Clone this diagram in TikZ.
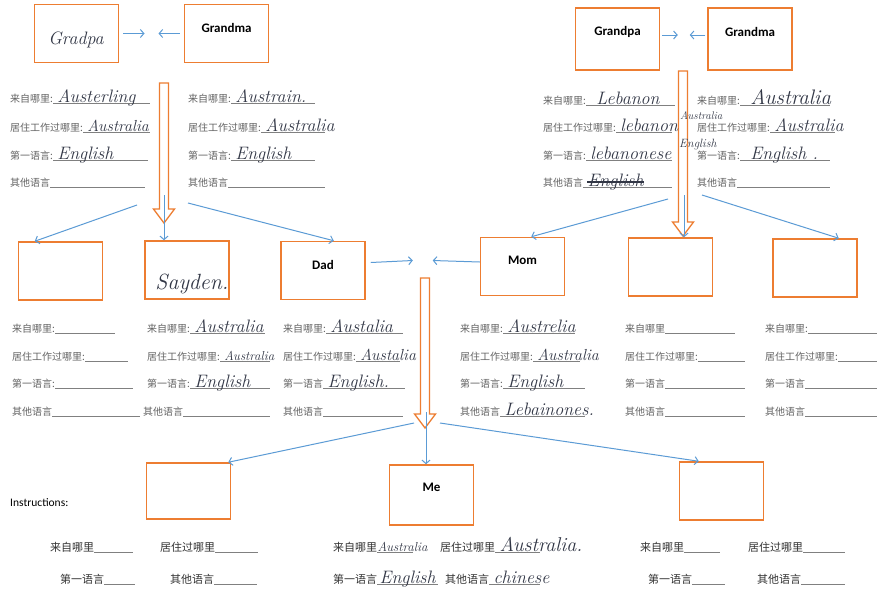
\documentclass[tikz,border=0pt]{standalone}
\usepackage{fontspec}
\newfontfamily\cjk{Noto Sans CJK SC}
\newfontfamily\boxfont{Carlito}
\usetikzlibrary{arrows.meta,calc}

\definecolor{boxorange}{RGB}{237,125,49}
\definecolor{linkblue}{RGB}{91,155,213}
\definecolor{labgray}{RGB}{100,100,100}
\definecolor{ink}{RGB}{50,55,70}

% one answer line: name, x, baseline y, label, end of rule, handwriting
\newcommand\infoline[6]{%
  \node[lab] (#1) at (#2,#3) {#4};
  \coordinate (#1e) at (#5,#3+1);
  \draw[uline] ([yshift=-1pt]#1.base east) -- (#1e);
  \node[hand] (#1h) at ([xshift=4pt]#1.base east) {#6};
}

\begin{document}
\begin{tikzpicture}[x=1pt,y=-1pt,
  person/.style = { draw=boxorange, line width=1.5pt, fill=white,
                    minimum width=84pt, minimum height=58pt, inner sep=0pt },
  boxtxt/.style = { font=\boxfont\bfseries\fontsize{13}{13}\selectfont, inner sep=0pt },
  lab/.style    = { font=\cjk\fontsize{10}{11}\selectfont, text=labgray,
                    anchor=base west, inner sep=0pt },
  blab/.style   = { font=\cjk\fontsize{11}{12}\selectfont, text=black!80,
                    anchor=base west, inner sep=0pt },
  uline/.style  = { draw=gray, line width=0.6pt },
  hand/.style   = { font=\fontsize{18}{18}\selectfont\itshape, text=ink,
                    anchor=base west, inner sep=0pt },
  link/.style   = { draw=linkblue, line width=1pt,
                    -{Straight Barb[length=3.5pt,width=8pt]} },
  fatarrow/.style = { draw=boxorange, line width=1.3pt, fill=white }]
  \useasboundingbox (0,0) rectangle (877,600);
  \fill[white] (0,0) rectangle (877,600);

  % grandparents
  \node[person] (gpL) at (76.5,33.5) {};
  \node[person] (gmL) at (226.5,33.5) {};
  \node[person, minimum height=62pt] (gpR) at (617.5,39) {};
  \node[person, minimum height=62pt] (gmR) at (750,39) {};
  \node[hand, anchor=center] (gpLt) at (76,40) {Gradpa};
  \node[boxtxt] (gmLt) at ([yshift=-24pt]gmL.north) {Grandma};
  \node[boxtxt] (gpRt) at ([yshift=-25pt]gpR.north) {Grandpa};
  \node[boxtxt] (gmRt) at ([yshift=-25pt]gmR.north) {Grandma};

  \coordinate (mL) at ($(gpL.east)!0.5!(gmL.west)$);
  \coordinate (mR) at ($(gpR.east)!0.5!(gmR.west)$);
  \draw[link] ([xshift=4pt]gpL.east) -- ([xshift=-7pt]mL);
  \draw[link] ([xshift=-4pt]gmL.west) -- ([xshift=7pt]mL);
  \draw[link] ([xshift=2pt,yshift=4pt]gpR.east) -- ([xshift=-6pt,yshift=4pt]mR);
  \draw[link] ([xshift=-2pt,yshift=4pt]gmR.west) -- ([xshift=6pt,yshift=4pt]mR);

  % parents' generation
  \node[person] (sibA) at (60.5,271) {};
  \node[person] (sibB) at (187,270) {};
  \node[person] (dad)  at (323,270.5) {};
  \node[person] (mom)  at (522.5,266.5) {};
  \node[person] (sibE) at (670.5,267) {};
  \node[person] (sibF) at (815,268) {};
  \node[hand, anchor=center, font=\fontsize{22}{22}\selectfont\itshape] (sibBt) at (192,284) {Sayden.};
  \node[boxtxt] (dadt) at ([yshift=-24pt]dad.north) {Dad};
  \node[boxtxt] (momt) at ([yshift=-24pt]mom.north) {Mom};

  % my generation
  \node[person, minimum height=56pt] (kidL) at (188.5,491) {};
  \node[person, minimum height=60pt] (me)   at (431.5,495) {};
  \node[person, minimum height=58pt] (kidR) at (721.5,491) {};
  \node[boxtxt] (met) at ([yshift=-23pt]me.north) {Me};

  % hollow descent arrows
  \draw[fatarrow] (159.5,83) -- (168.5,83) -- (168.5,209) -- (174.5,209)
    -- (164,223) -- (153.5,209) -- (159.5,209) -- cycle;
  \draw[fatarrow] (678.5,71) -- (687.5,71) -- (687.5,222) -- (693.5,222)
    -- (683,236) -- (672.5,222) -- (678.5,222) -- cycle;
  \draw[fatarrow] (420.5,278) -- (429.5,278) -- (429.5,414) -- (435.5,414)
    -- (425,428) -- (414.5,414) -- (420.5,414) -- cycle;

  \coordinate (dL) at (164,195);
  \coordinate (dR) at (684,195);
  \coordinate (dM) at (426,412);
  \draw[link] (dL) ++(-27,10) -- ([xshift=17pt]sibA.north west);
  \draw[link] (dL) -- (sibB.north -| dL);
  \draw[link] (dL) ++(24,8) -- ([xshift=-32pt]dad.north east);
  \draw[link] (dR) ++(-16,4) -- ([xshift=-34pt]mom.north east);
  \draw[link] (dR) -- (sibE.north -| dR);
  \draw[link] (dR) ++(18,0) -- ([xshift=-19pt]sibF.north east);
  \draw[link] (dM) ++(-12,11) -- ([xshift=-3pt]kidL.north east);
  \draw[link] (dM) -- (me.north -| dM);
  \draw[link] (dM) ++(14,11) -- ([xshift=20pt]kidR.north west);

  \coordinate (mP) at ($(dad.east)!0.5!(mom.west)$);
  \draw[link] ([xshift=5pt,yshift=8pt]dad.east) -- ([xshift=-10pt,yshift=8pt]mP);
  \draw[link] ([yshift=4.5pt]mom.west) -- ([xshift=10pt,yshift=8pt]mP);

  % answer lines under grandparents
  \infoline{gpLa}{10}{102}{来自哪里:}{150}{Austerling}
  \infoline{gpLb}{10}{131}{居住工作过哪里:}{150}{\fontsize{16}{16}\selectfont Australia}
  \infoline{gpLc}{10}{159}{第一语言:}{148}{English}
  \infoline{gpLd}{10}{186}{其他语言}{145}{}
  \infoline{gmLa}{188}{102}{来自哪里:}{315}{Austrain.}
  \infoline{gmLb}{188}{131}{居住工作过哪里:}{325}{Australia}
  \infoline{gmLc}{188}{159}{第一语言:}{315}{English}
  \infoline{gmLd}{188}{186}{其他语言}{325}{}
  \infoline{gpRa}{543}{104}{来自哪里:}{675}{\hspace{6pt}Lebanon}
  \infoline{gpRb}{543}{131}{居住工作过哪里:}{672}{lebanon}
  \infoline{gpRc}{543}{159}{第一语言:}{672}{lebanonese}
  \infoline{gpRd}{543}{186}{其他语言}{672}{English}
  \draw[ink, line width=1.2pt] ([yshift=4pt]gpRdh.base west) -- ([yshift=4pt]gpRdh.base east);
  \infoline{gmRa}{697}{104}{来自哪里:}{830}{\hspace{6pt}\fontsize{21}{21}\selectfont Australia}
  \infoline{gmRb}{697}{131}{居住工作过哪里:}{835}{Australia}
  \infoline{gmRc}{697}{159}{第一语言:}{830}{\hspace{6pt}English .}
  \infoline{gmRd}{697}{186}{其他语言}{830}{}
  \node[hand, font=\fontsize{11}{11}\selectfont\itshape] (gmRx) at (680,119) {Australia};
  \node[hand, font=\fontsize{12}{12}\selectfont\itshape] (gmRy) at (679,147) {English};

  % answer lines under parents' generation
  \infoline{sAa}{12}{332}{来自哪里:}{115}{}
  \infoline{sAb}{12}{360}{居住工作过哪里:}{128}{}
  \infoline{sAc}{12}{387}{第一语言:}{133}{}
  \infoline{sAd}{12}{415}{其他语言}{140}{}
  \infoline{sBa}{147}{332}{来自哪里:}{265}{Australia}
  \infoline{sBb}{147}{360}{居住工作过哪里:}{270}{\fontsize{13}{13}\selectfont Australia}
  \infoline{sBc}{147}{387}{第一语言:}{270}{English}
  \infoline{sBd}{143}{415}{其他语言}{270}{}
  \infoline{dada}{283}{332}{来自哪里:}{403}{Austalia}
  \infoline{dadb}{283}{360}{居住工作过哪里:}{400}{\fontsize{16}{16}\selectfont Austalia}
  \infoline{dadc}{283}{387}{第一语言}{405}{English.}
  \infoline{dadd}{283}{415}{其他语言}{403}{}
  \infoline{moma}{460}{332}{来自哪里:}{575}{Austrelia}
  \infoline{momb}{460}{360}{居住工作过哪里:}{580}{\fontsize{16}{16}\selectfont Australia}
  \infoline{momc}{460}{387}{第一语言:}{585}{English}
  \infoline{momd}{460}{415}{其他语言}{585}{Lebainones.}
  \infoline{sEa}{625}{332}{来自哪里}{735}{}
  \infoline{sEb}{625}{360}{居住工作过哪里:}{745}{}
  \infoline{sEc}{625}{387}{第一语言}{745}{}
  \infoline{sEd}{625}{415}{其他语言}{745}{}
  \infoline{sFa}{765}{332}{来自哪里:}{877}{}
  \infoline{sFb}{765}{360}{居住工作过哪里:}{877}{}
  \infoline{sFc}{765}{387}{第一语言}{877}{}
  \infoline{sFd}{765}{415}{其他语言}{877}{}

  % bottom row
  \node[boxtxt, font=\boxfont\fontsize{11.5}{12}\selectfont, anchor=base west] (instr) at (10,506) {Instructions:};
  \tikzset{lab/.style={blab}}
  \infoline{kLa}{50}{551}{来自哪里}{133}{}
  \infoline{kLb}{160}{551}{居住过哪里}{258}{}
  \infoline{kLc}{60}{583}{第一语言}{135}{}
  \infoline{kLd}{170}{583}{其他语言}{257}{}
  \infoline{meA}{333}{551}{来自哪里}{413}{\hspace{-4pt}\fontsize{13}{13}\selectfont Australia}
  \infoline{meB}{440}{551}{居住过哪里}{540}{\fontsize{20}{20}\selectfont Australia.}
  \infoline{meC}{333}{583}{第一语言}{438}{\hspace{-2pt}English}
  \infoline{meD}{445}{583}{其他语言}{540}{chinese}
  \infoline{kRa}{640}{551}{来自哪里}{720}{}
  \infoline{kRb}{748}{551}{居住过哪里}{845}{}
  \infoline{kRc}{648}{583}{第一语言}{725}{}
  \infoline{kRd}{757}{583}{其他语言}{845}{}
\end{tikzpicture}
\end{document}
